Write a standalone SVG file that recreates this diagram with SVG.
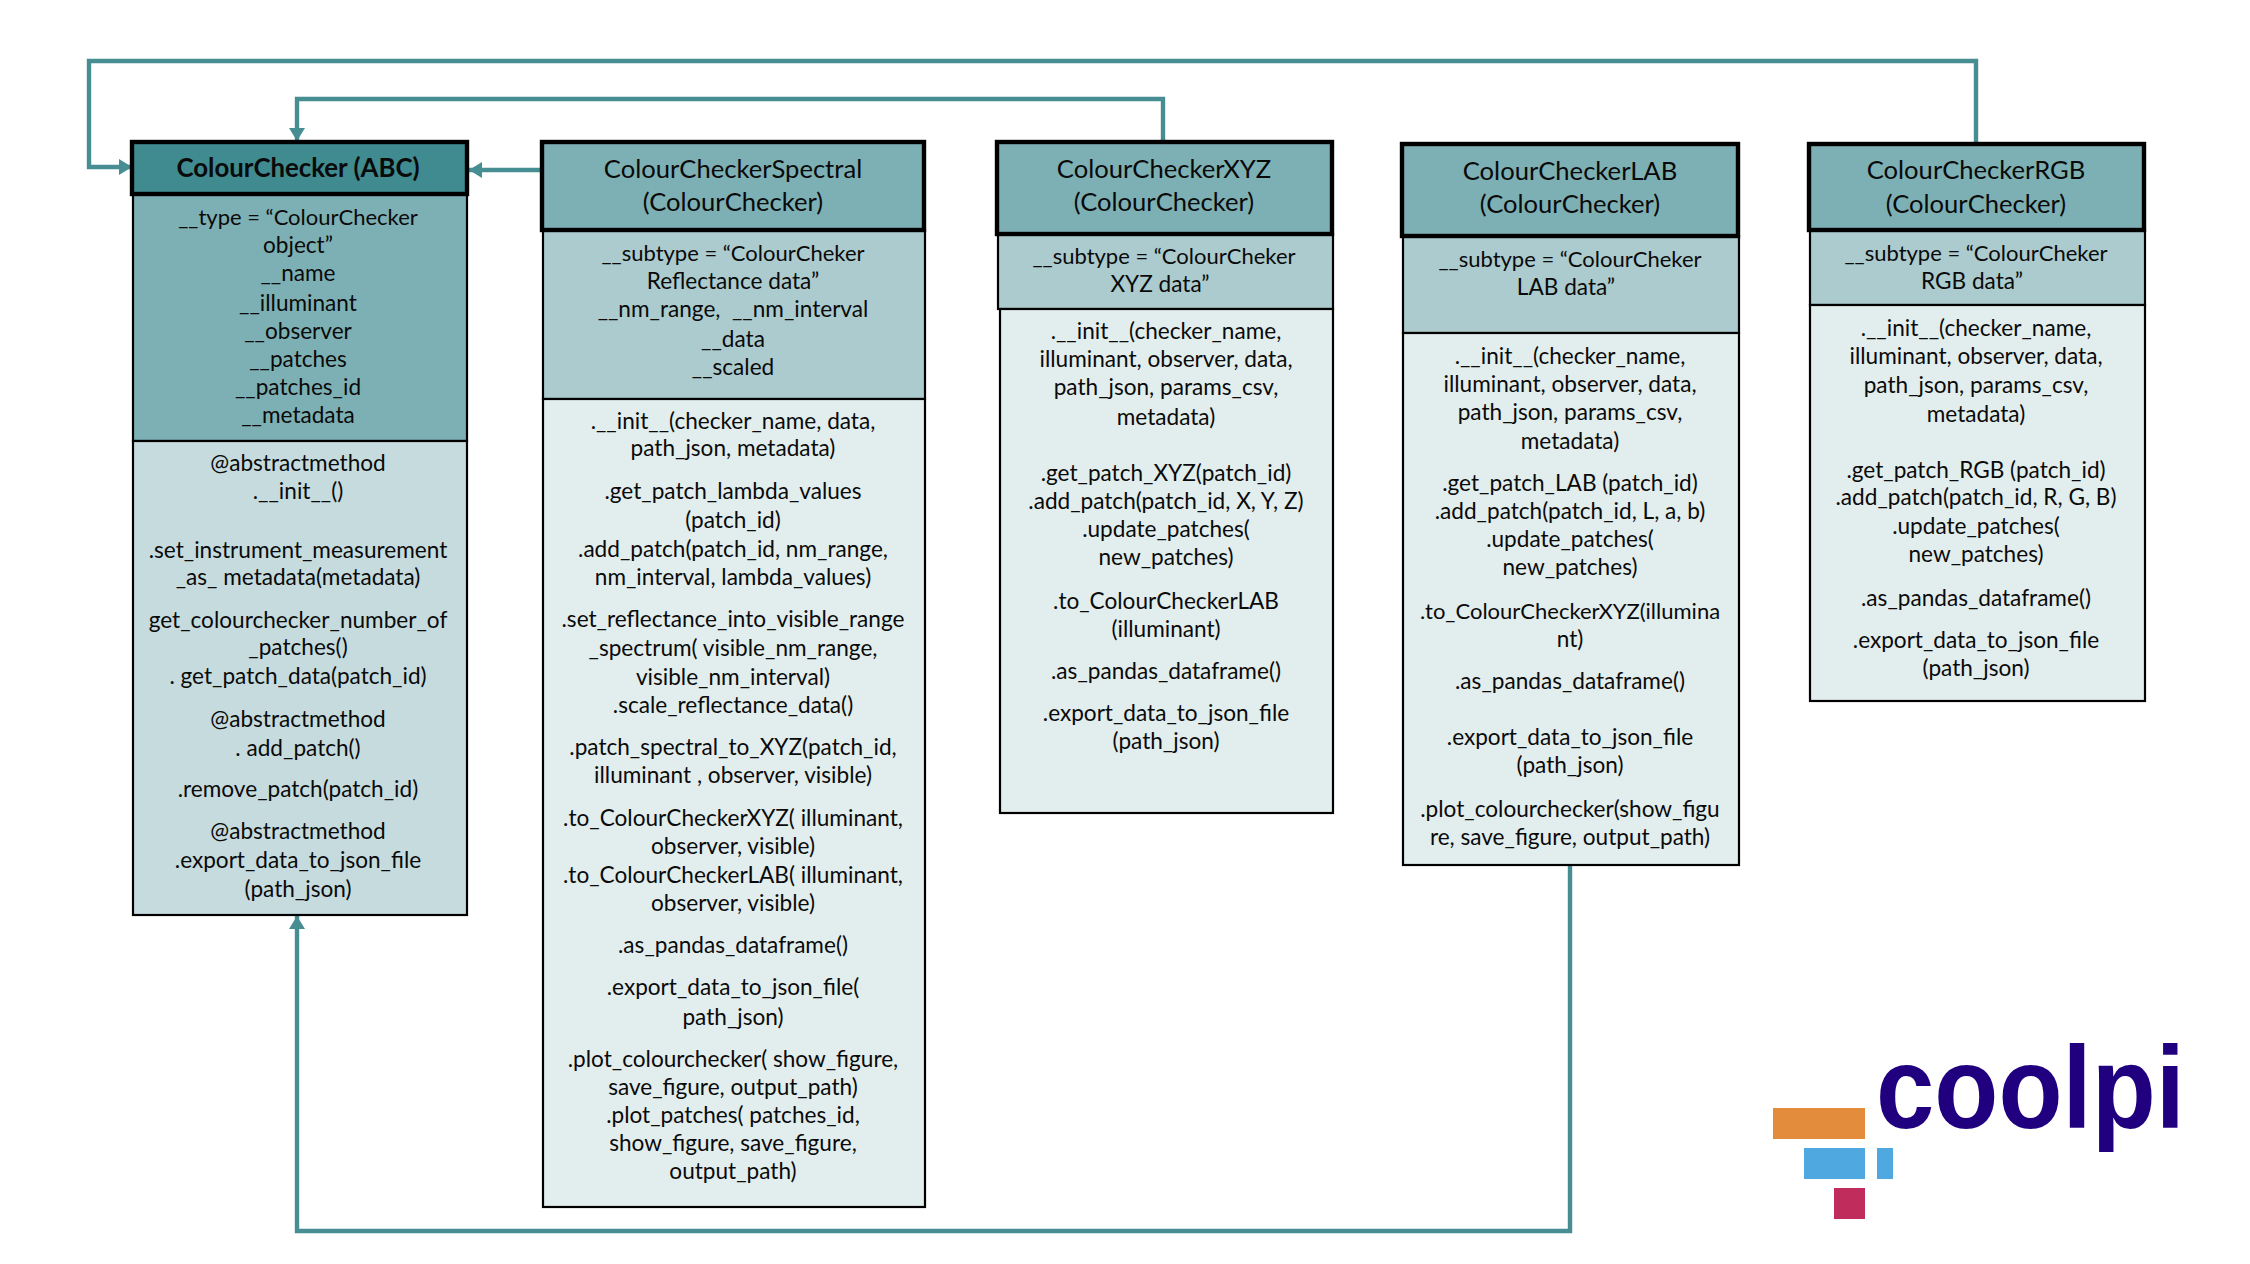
<svg xmlns="http://www.w3.org/2000/svg" width="2250" height="1264" viewBox="0 0 2250 1264">
<style>
text{font-family:"Lato","Noto Sans",sans-serif;font-size:22.6px;fill:#0a0a0a;text-anchor:middle}
.h{font-size:25.6px}
.hb{font-size:25.8px;font-weight:700}
.n{font-size:22px}
.p{white-space:pre}
.b{stroke:#000;stroke-width:2.2}
.t{stroke:#000;stroke-width:4.4}
.c1{fill:#408b90}.c2{fill:#7db0b4}.c3{fill:#abcbce}.c4{fill:#c5dbde}.c5{fill:#e2eded}
.conn{fill:none;stroke:#468e92;stroke-width:4.4}
.logo{font-family:"Liberation Sans",sans-serif;font-size:116px;font-weight:700;fill:#20007f;text-anchor:start}
</style>
<defs>
<marker id="ah" markerUnits="userSpaceOnUse" markerWidth="14" markerHeight="16" refX="13" refY="8" orient="auto"><path d="M0 0L13 8L0 16z" fill="#468e92"/></marker>
</defs>
<g id="connectors">
<path class="conn" marker-end="url(#ah)" d="M1976 143V61H89V167H132"/>
<path class="conn" marker-end="url(#ah)" d="M1163 142V99H297V141"/>
<path class="conn" marker-end="url(#ah)" d="M541 170H469"/>
<path class="conn" marker-end="url(#ah)" d="M1570 865V1231H297V916"/>
</g>
<g id="node-abc">
<rect class="c2 b" x="133" y="194" width="334" height="247"/>
<rect class="c4 b" x="133" y="441" width="334" height="474"/>
<rect class="c1 t" x="132" y="142" width="335" height="52"/>
<text class="hb" x="298" y="177">ColourChecker (ABC)</text>
<g>
<text class="n" x="298" y="225">__type = “ColourChecker</text>
<text x="298" y="253">object”</text>
<text x="298" y="281">__name</text>
<text x="298" y="311">__illuminant</text>
<text x="298" y="339">__observer</text>
<text x="298" y="367">__patches</text>
<text x="298" y="395">__patches_id</text>
<text x="298" y="423">__metadata</text>
</g>
<g>
<text x="298" y="471">@abstractmethod</text>
<text x="298" y="499">.__init__()</text>
<text x="298" y="558">.set_instrument_measurement</text>
<text x="298" y="585">_as_ metadata(metadata)</text>
<text x="298" y="628">get_colourchecker_number_of</text>
<text x="298" y="655">_patches()</text>
<text x="298" y="684">. get_patch_data(patch_id)</text>
<text x="298" y="727">@abstractmethod</text>
<text x="298" y="756">. add_patch()</text>
<text x="298" y="797">.remove_patch(patch_id)</text>
<text x="298" y="839">@abstractmethod</text>
<text x="298" y="868">.export_data_to_json_file</text>
<text x="298" y="897">(path_json)</text>
</g>
</g>
<g id="node-spectral">
<rect class="c3 b" x="543" y="230" width="382" height="169"/>
<rect class="c5 b" x="543" y="399" width="382" height="808"/>
<rect class="c2 t" x="542" y="142" width="382" height="88"/>
<text class="h" x="733" y="178">ColourCheckerSpectral</text>
<text class="h" x="733" y="211">(ColourChecker)</text>
<g>
<text class="n" x="733" y="261">__subtype = “ColourCheker</text>
<text x="733" y="289">Reflectance data”</text>
<text class="p" x="733" y="317">__nm_range,  __nm_interval</text>
<text x="733" y="347">__data</text>
<text x="733" y="375">__scaled</text>
</g>
<g>
<text x="733" y="429">.__init__(checker_name, data,</text>
<text x="733" y="456">path_json, metadata)</text>
<text x="733" y="499">.get_patch_lambda_values</text>
<text x="733" y="528">(patch_id)</text>
<text x="733" y="557">.add_patch(patch_id, nm_range,</text>
<text x="733" y="585">nm_interval, lambda_values)</text>
<text x="733" y="627">.set_reflectance_into_visible_range</text>
<text x="733" y="656">_spectrum( visible_nm_range,</text>
<text x="733" y="685">visible_nm_interval)</text>
<text x="733" y="713">.scale_reflectance_data()</text>
<text x="733" y="755">.patch_spectral_to_XYZ(patch_id,</text>
<text x="733" y="783">illuminant , observer, visible)</text>
<text x="733" y="826">.to_ColourCheckerXYZ( illuminant,</text>
<text x="733" y="854">observer, visible)</text>
<text x="733" y="883">.to_ColourCheckerLAB( illuminant,</text>
<text x="733" y="911">observer, visible)</text>
<text x="733" y="953">.as_pandas_dataframe()</text>
<text x="733" y="995">.export_data_to_json_file(</text>
<text x="733" y="1025">path_json)</text>
<text x="733" y="1067">.plot_colourchecker( show_figure,</text>
<text x="733" y="1095">save_figure, output_path)</text>
<text x="733" y="1123">.plot_patches( patches_id,</text>
<text x="733" y="1151">show_figure, save_figure,</text>
<text x="733" y="1179">output_path)</text>
</g>
</g>
<g id="node-xyz">
<rect class="c3 b" x="998" y="234" width="335" height="75"/>
<rect class="c5 b" x="1000" y="309" width="333" height="504"/>
<rect class="c2 t" x="997" y="142" width="335" height="92"/>
<text class="h" x="1164" y="178">ColourCheckerXYZ</text>
<text class="h" x="1164" y="211">(ColourChecker)</text>
<text class="n" x="1164" y="264">__subtype = “ColourCheker</text>
<text x="1160" y="292">XYZ data”</text>
<g>
<text x="1166" y="339">.__init__(checker_name,</text>
<text x="1166" y="367">illuminant, observer, data,</text>
<text x="1166" y="395">path_json, params_csv,</text>
<text x="1166" y="425">metadata)</text>
<text x="1166" y="481">.get_patch_XYZ(patch_id)</text>
<text x="1166" y="509">.add_patch(patch_id, X, Y, Z)</text>
<text x="1166" y="537">.update_patches(</text>
<text x="1166" y="565">new_patches)</text>
<text x="1166" y="609">.to_ColourCheckerLAB</text>
<text x="1166" y="637">(illuminant)</text>
<text x="1166" y="679">.as_pandas_dataframe()</text>
<text x="1166" y="721">.export_data_to_json_file</text>
<text x="1166" y="749">(path_json)</text>
</g>
</g>
<g id="node-lab">
<rect class="c3 b" x="1403" y="236" width="336" height="97"/>
<rect class="c5 b" x="1403" y="333" width="336" height="532"/>
<rect class="c2 t" x="1402" y="144" width="336" height="92"/>
<text class="h" x="1570" y="180">ColourCheckerLAB</text>
<text class="h" x="1570" y="213">(ColourChecker)</text>
<text class="n" x="1570" y="267">__subtype = “ColourCheker</text>
<text x="1566" y="295">LAB data”</text>
<g>
<text x="1570" y="364">.__init__(checker_name,</text>
<text x="1570" y="392">illuminant, observer, data,</text>
<text x="1570" y="420">path_json, params_csv,</text>
<text x="1570" y="449">metadata)</text>
<text x="1570" y="491">.get_patch_LAB (patch_id)</text>
<text x="1570" y="519">.add_patch(patch_id, L, a, b)</text>
<text x="1570" y="547">.update_patches(</text>
<text x="1570" y="575">new_patches)</text>
<text class="n" x="1570" y="619">.to_ColourCheckerXYZ(illumina</text>
<text x="1570" y="647">nt)</text>
<text x="1570" y="689">.as_pandas_dataframe()</text>
<text x="1570" y="745">.export_data_to_json_file</text>
<text x="1570" y="773">(path_json)</text>
<text x="1570" y="817">.plot_colourchecker(show_figu</text>
<text x="1570" y="845">re, save_figure, output_path)</text>
</g>
</g>
<g id="node-rgb">
<rect class="c3 b" x="1810" y="230" width="335" height="75"/>
<rect class="c5 b" x="1810" y="305" width="335" height="396"/>
<rect class="c2 t" x="1809" y="144" width="335" height="86"/>
<text class="h" x="1976" y="179">ColourCheckerRGB</text>
<text class="h" x="1976" y="213">(ColourChecker)</text>
<text class="n" x="1976" y="261">__subtype = “ColourCheker</text>
<text x="1972" y="289">RGB data”</text>
<g>
<text x="1976" y="336">.__init__(checker_name,</text>
<text x="1976" y="364">illuminant, observer, data,</text>
<text x="1976" y="393">path_json, params_csv,</text>
<text x="1976" y="422">metadata)</text>
<text x="1976" y="478">.get_patch_RGB (patch_id)</text>
<text x="1976" y="505">.add_patch(patch_id, R, G, B)</text>
<text x="1976" y="534">.update_patches(</text>
<text x="1976" y="562">new_patches)</text>
<text x="1976" y="606">.as_pandas_dataframe()</text>
<text x="1976" y="648">.export_data_to_json_file</text>
<text x="1976" y="676">(path_json)</text>
</g>
</g>
<g id="logo">
<rect x="1773" y="1108" width="92" height="31" fill="#e28c3c"/>
<rect x="1804" y="1148" width="61" height="31" fill="#4fa8e0"/>
<rect x="1877" y="1148" width="16" height="31" fill="#4fa8e0"/>
<rect x="1834" y="1188" width="31" height="31" fill="#c02c5c"/>
<text class="logo" x="1876" y="1128" textLength="309" lengthAdjust="spacingAndGlyphs">coolpi</text>
</g>
</svg>
